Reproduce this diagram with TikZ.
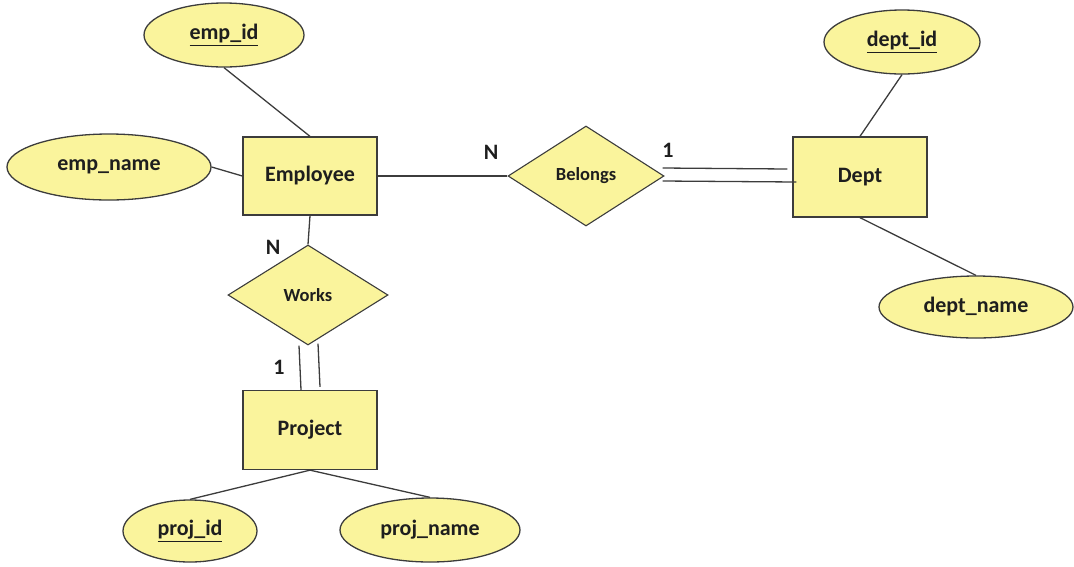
\documentclass[tikz,border=0pt]{standalone}
\usepackage{fontspec}
\setmainfont{Carlito}
\usetikzlibrary{shapes.geometric,calc}
\definecolor{erfill}{HTML}{FAF49C}
\definecolor{erline}{HTML}{3C3C3C}
\definecolor{ertext}{HTML}{1E1E1E}
\begin{document}
\begin{tikzpicture}[x=1pt,y=-1pt,
  every node/.style={text=ertext,font=\bfseries\fontsize{22}{26}\selectfont},
  entity/.style={rectangle,draw=erline,line width=1.3pt,fill=erfill,inner sep=0pt},
  attr/.style={ellipse,draw=erline,line width=1.3pt,fill=erfill,inner sep=0pt},
  rel/.style={diamond,draw=erline,line width=1.1pt,fill=erfill,inner sep=0pt,
    font=\bfseries\fontsize{18.5}{22}\selectfont},
  link/.style={draw=erline,line width=1.3pt},
  card/.style={inner sep=0pt}]
\useasboundingbox (0,0) rectangle (1074,566);

% entities
\node[entity,minimum width=134,minimum height=78] (emp) at (310,176) {Employee};
\node[entity,minimum width=134,minimum height=80] (dept) at (860,177) {Dept};
\node[entity,minimum width=134,minimum height=79] (proj) at (310,430) {Project};

% relationships
\node[rel,minimum width=156,minimum height=100] (bel) at (586,176) {Belongs};
\node[rel,minimum width=160,minimum height=100] (works) at (308,295) {Works};

% attributes
\node[attr,minimum width=160,minimum height=64] (empid) at (224,35) {\underline{emp\_id}};
\node[attr,minimum width=204,minimum height=66] (empname) at (109,167) {emp\_name};
\node[attr,minimum width=156,minimum height=64] (deptid) at (902,42) {\underline{dept\_id}};
\node[attr,minimum width=194,minimum height=62] (deptname) at (976,307) {dept\_name};
\node[attr,minimum width=134,minimum height=62] (projid) at (190,531) {\underline{proj\_id}};
\node[attr,minimum width=180,minimum height=64] (projname) at (430,530) {proj\_name};

% attribute links
\draw[link] (empid.south) -- (emp.north);
\draw[link] (empname.east) -- (emp.west);
\draw[link] (deptid.south) -- (dept.north);
\draw[link] (dept.south) -- (deptname.north);
\draw[link] (proj.south) -- (projid.north);
\draw[link] (proj.south) -- (projname.north);

% relationship links
\draw[link] (emp.east) -- (bel.west);
\draw[link] (emp.south) -- (works.north);
% total participation (double lines)
\draw[link] ($(bel.east)+(-2,-8)$) -- ($(dept.west)+(-5,-8)$);
\draw[link] ($(bel.east)+(-2,5)$) -- ($(dept.west)+(4,5)$);
\draw[link] ($(works.south)+(-9,0)$) -- ($(proj.north)+(-9,0)$);
\draw[link] ($(works.south)+(10,-2)$) -- ($(proj.north)+(10,-3)$);

% cardinalities
\node[card] (cbelN) at (491,152) {N};
\node[card] (cbel1) at (668,150) {1};
\node[card] (cworN) at (273,247) {N};
\node[card] (cwor1) at (279,367) {1};
\end{tikzpicture}
\end{document}
